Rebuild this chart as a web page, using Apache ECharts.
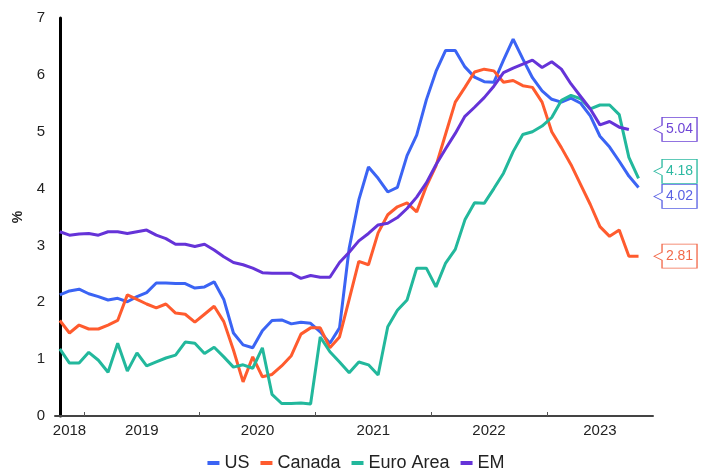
<!DOCTYPE html>
<html>
<head>
<meta charset="utf-8">
<title>Core inflation</title>
<script src="https://cdn.jsdelivr.net/npm/echarts@6/dist/echarts.min.js"></script>
<style>
  html, body { margin: 0; padding: 0; background: #fff; }
  #chart { width: 712px; height: 469px; }
</style>
</head>
<body>
<div id="chart"></div>
<script>
// Monthly observations, Oct 2018 – Oct 2023 (year-on-year, %)
const months = [
  '2018-10','2018-11','2018-12',
  '2019-01','2019-02','2019-03','2019-04','2019-05','2019-06','2019-07','2019-08','2019-09','2019-10','2019-11','2019-12',
  '2020-01','2020-02','2020-03','2020-04','2020-05','2020-06','2020-07','2020-08','2020-09','2020-10','2020-11','2020-12',
  '2021-01','2021-02','2021-03','2021-04','2021-05','2021-06','2021-07','2021-08','2021-09','2021-10','2021-11','2021-12',
  '2022-01','2022-02','2022-03','2022-04','2022-05','2022-06','2022-07','2022-08','2022-09','2022-10','2022-11','2022-12',
  '2023-01','2023-02','2023-03','2023-04','2023-05','2023-06','2023-07','2023-08','2023-09','2023-10'
];

const us = [
  2.13, 2.20, 2.23,
  2.15, 2.10, 2.04, 2.07, 2.01, 2.10, 2.17, 2.34, 2.34, 2.33, 2.33, 2.25,
  2.27, 2.36, 2.05, 1.46, 1.25, 1.20, 1.50, 1.68, 1.69, 1.62, 1.65, 1.63,
  1.48, 1.28, 1.55, 2.95, 3.80, 4.38, 4.18, 3.94, 4.02, 4.58, 4.94, 5.56,
  6.06, 6.43, 6.43, 6.14, 5.96, 5.88, 5.87, 6.26, 6.63, 6.28, 5.95, 5.72,
  5.57, 5.52, 5.59, 5.50, 5.28, 4.92, 4.73, 4.48, 4.22, 4.02
];

const canada = [
  1.68, 1.46, 1.60,
  1.53, 1.53, 1.60, 1.68, 2.13, 2.05, 1.97, 1.90, 1.97, 1.81, 1.79, 1.65,
  1.79, 1.93, 1.66, 1.16, 0.60, 1.04, 0.69, 0.73, 0.88, 1.06, 1.44, 1.55,
  1.55, 1.20, 1.39, 2.05, 2.72, 2.66, 3.22, 3.54, 3.68, 3.75, 3.59, 4.04,
  4.40, 4.96, 5.52, 5.78, 6.05, 6.10, 6.07, 5.87, 5.90, 5.81, 5.78, 5.52,
  5.00, 4.72, 4.42, 4.07, 3.72, 3.33, 3.16, 3.27, 2.81, 2.81
];

const euroArea = [
  1.18, 0.93, 0.93,
  1.12, 0.98, 0.77, 1.28, 0.79, 1.11, 0.88, 0.95, 1.02, 1.07, 1.30, 1.28,
  1.10, 1.21, 1.04, 0.86, 0.90, 0.84, 1.20, 0.38, 0.22, 0.22, 0.23, 0.21,
  1.39, 1.13, 0.95, 0.76, 0.95, 0.90, 0.72, 1.57, 1.86, 2.04, 2.60, 2.60,
  2.27, 2.69, 2.93, 3.45, 3.75, 3.74, 4.00, 4.27, 4.65, 4.95, 5.00, 5.10,
  5.25, 5.55, 5.64, 5.58, 5.40, 5.47, 5.47, 5.30, 4.55, 4.18
];

const em = [
  3.24, 3.18, 3.20,
  3.21, 3.18, 3.24, 3.24, 3.21, 3.24, 3.27, 3.18, 3.12, 3.02, 3.02, 2.98,
  3.02, 2.92, 2.80, 2.70, 2.66, 2.60, 2.52, 2.51, 2.51, 2.51, 2.42, 2.47,
  2.44, 2.44, 2.70, 2.88, 3.08, 3.21, 3.36, 3.39, 3.49, 3.65, 3.85, 4.10,
  4.42, 4.70, 4.97, 5.27, 5.43, 5.60, 5.80, 6.04, 6.12, 6.19, 6.26, 6.13,
  6.23, 6.10, 5.84, 5.62, 5.40, 5.12, 5.18, 5.08, 5.04
];

const seriesNames = ['US', 'Canada', 'Euro Area', 'EM'];
const yearLabels = ['2018', '2019', '2020', '2021', '2022', '2023'];

// ---- styling ----
const FONT = '"Liberation Sans", Arial, Helvetica, sans-serif';
const lineColors = {
  'US': '#3B64F4',
  'Canada': '#FF5B2E',
  'Euro Area': '#22B89C',
  'EM': '#6533D8'
};
const calloutColors = {
  'US': '#5A62E4',
  'Canada': '#F26A4B',
  'Euro Area': '#2CB9A1',
  'EM': '#6E45D6'
};
// vertical nudge (px) so the end-value boxes do not overlap
const calloutShift = { 'US': 9, 'Canada': 0, 'Euro Area': -7, 'EM': 0 };

// x runs in month steps: 0 = first month; year boundaries fall half a step before January
const startYear = Number(months[0].slice(0, 4));
const startMonth = Number(months[0].slice(5, 7));
const xMin = -0.5;
const xMax = months.length + 0.5;
function yearBoundary(year) {
  return (year - startYear) * 12 - (startMonth - 1) - 0.5;
}
const tickPositions = yearLabels.slice(1).map(y => yearBoundary(Number(y)));
const labelPositions = yearLabels.map(y => {
  const a = Math.max(xMin, yearBoundary(Number(y)));
  const b = Math.min(xMax, yearBoundary(Number(y) + 1));
  return (a + b) / 2;
});
function yearForPosition(v) {
  let best = 0;
  labelPositions.forEach((p, i) => {
    if (Math.abs(p - v) < Math.abs(labelPositions[best] - v)) best = i;
  });
  return yearLabels[best];
}

const dataBySeries = { 'US': us, 'Canada': canada, 'Euro Area': euroArea, 'EM': em };
const calloutX = months.length - 1;
const calloutPath = 'path://M0,12L8,8L8,0L43,0L43,24L8,24L8,16Z';

const series = seriesNames.map(name => {
  const values = dataBySeries[name];
  const last = values[values.length - 1];
  return {
    name: name,
    type: 'line',
    data: values.map((v, i) => [i, v]),
    showSymbol: false,
    symbol: 'none',
    smooth: false,
    lineStyle: { width: 3, color: lineColors[name] },
    itemStyle: { color: lineColors[name] },
    emphasis: { disabled: true },
    markPoint: {
      silent: true,
      animation: false,
      symbol: calloutPath,
      symbolSize: [43, 24],
      data: [{
        coord: [calloutX, last],
        value: last,
        symbolOffset: [37, calloutShift[name]],
        itemStyle: { color: '#ffffff', borderColor: calloutColors[name], borderWidth: 1 },
        label: {
          show: true,
          position: 'inside',
          offset: [4, 0],
          color: calloutColors[name],
          fontFamily: FONT,
          fontSize: 14,
          formatter: () => last.toFixed(2)
        }
      }]
    }
  };
});

const chart = echarts.init(document.getElementById('chart'), null, { renderer: 'canvas' });
chart.setOption({
  animation: false,
  backgroundColor: '#ffffff',
  textStyle: { fontFamily: FONT },
  grid: { left: 55, right: 59, top: 18, bottom: 53, containLabel: false, outerBoundsMode: 'none' },
  legend: {
    data: seriesNames,
    left: 'center',
    top: 449,
    icon: 'rect',
    itemWidth: 12,
    itemHeight: 4,
    itemGap: 11,
    textStyle: { fontFamily: FONT, fontSize: 18, color: '#222' }
  },
  xAxis: {
    type: 'value',
    min: xMin,
    max: xMax,
    axisLine: { show: true, lineStyle: { color: '#444', width: 2 } },
    axisTick: {
      show: true,
      inside: true,
      length: 4,
      customValues: tickPositions,
      lineStyle: { color: '#555', width: 1 }
    },
    axisLabel: {
      customValues: labelPositions,
      formatter: v => yearForPosition(v),
      fontFamily: FONT,
      fontSize: 15,
      color: '#222',
      margin: 7
    },
    splitLine: { show: false }
  },
  yAxis: {
    type: 'value',
    min: 0,
    max: 7,
    interval: 1,
    name: '%',
    nameLocation: 'middle',
    nameGap: 30,
    nameMoveOverlap: false,
    nameRotate: 90,
    nameTextStyle: { fontFamily: FONT, fontSize: 14, fontWeight: 'bold', color: '#222' },
    axisLine: { show: true, lineStyle: { color: '#000', width: 3 } },
    axisTick: { show: false },
    axisLabel: { fontFamily: FONT, fontSize: 15, color: '#222', margin: 10 },
    splitLine: { show: false }
  },
  series: series
});
</script>
</body>
</html>
